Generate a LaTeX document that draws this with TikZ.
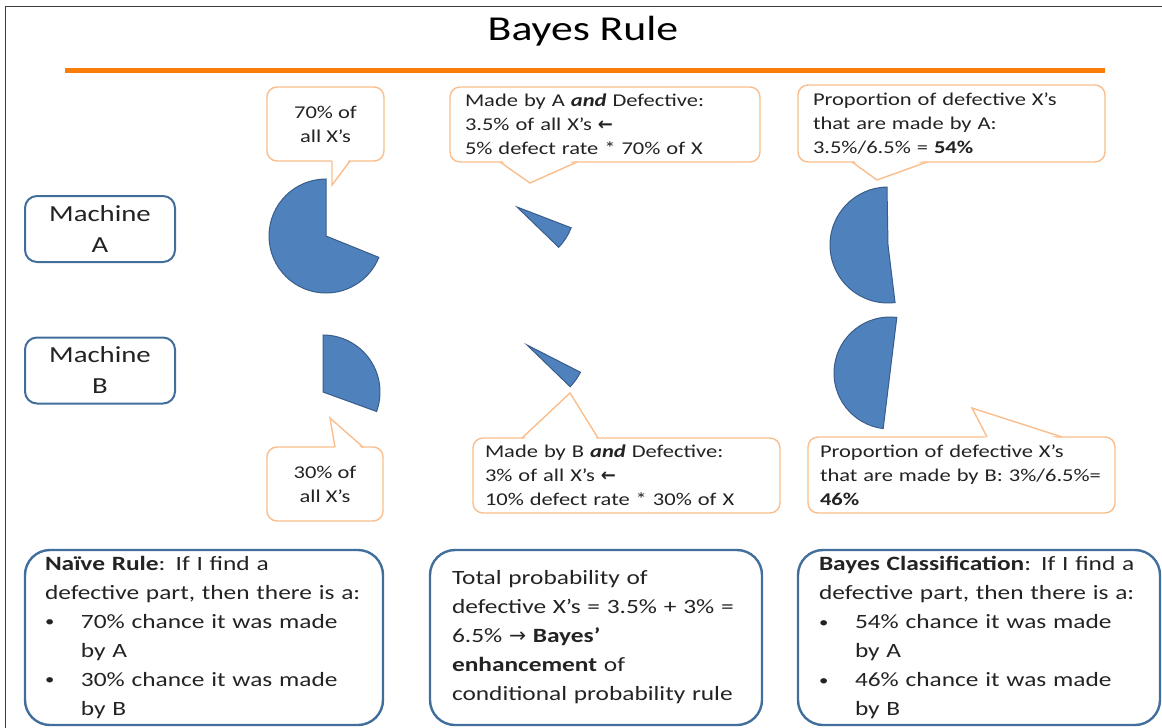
\documentclass[tikz,border=0pt]{standalone}
\usepackage{fontspec}
\setmainfont[FakeStretch=1.25]{Carlito}
\newfontfamily\arrowfont{DejaVu Sans}
\usepackage{tikz}
\usetikzlibrary{positioning}

\definecolor{ruleorange}{RGB}{250,125,10}
\definecolor{calloutorange}{RGB}{250,190,140}
\definecolor{boxblue}{RGB}{65,110,155}
\definecolor{piefill}{RGB}{79,129,189}
\definecolor{pieedge}{RGB}{56,93,138}
\definecolor{textgray}{RGB}{35,35,35}
\definecolor{framegray}{RGB}{60,60,60}

\newcommand{\bitem}{\makebox[36pt][l]{\raisebox{1.5pt}{\fontsize{15}{15}\selectfont\textbullet}}}
\newcommand{\bindent}{\hspace*{36pt}}

\begin{document}
\begin{tikzpicture}[x=1pt, y=-1pt,
    machine/.style={draw=boxblue, line width=2pt, rounded corners=12pt, minimum width=150pt, minimum height=66pt, align=center, font=\fontsize{23}{31}\selectfont, text=textgray},
    callout/.style={draw=calloutorange, line width=1.4pt, fill=white, rounded corners=10pt, font=\fontsize{18}{24}\selectfont, text=textgray},
    pointer/.style={draw=calloutorange, line width=1.4pt},
    summary/.style={draw=boxblue, line width=2.4pt, rounded corners=25pt, minimum height=175pt, inner ysep=2pt, align=left, font=\fontsize{20.3}{29}\selectfont, text=textgray},
    pie/.style={fill=piefill, draw=pieedge, line width=1pt}]
    \useasboundingbox (0,0) rectangle (1162,728);

    % Cadre et titre
    \draw[framegray, line width=1pt] (5,728) -- (5,6) -- (1162,6);
    \node[font=\fontsize{35}{42}\selectfont, anchor=base] (title) at (583,40) {Bayes Rule};
    \draw[ruleorange, line width=5pt] (65,70) -- (1105,70);

    % Machines
    \node[machine] (ma) at (100,229) {Machine\\A};
    \node[machine] (mb) at (100,370.5) {Machine\\B};

    % Secteurs
    \filldraw[pie] (326,236) -- ++(90:57pt) arc[start angle=90, end angle=338, radius=57pt] -- cycle;
    \filldraw[pie] (323,392) -- ++(90:57pt) arc[start angle=90, end angle=-20, radius=57pt] -- cycle;
    \filldraw[pie] (517,207) -- ++(-21:58pt) arc[start angle=-21, end angle=-44, radius=58pt] -- cycle;
    \filldraw[pie] (527,345) -- ++(-27:60pt) arc[start angle=-27, end angle=-44, radius=60pt] -- cycle;
    \filldraw[pie] (888,245) -- ++(91:58pt) arc[start angle=91, end angle=277, radius=58pt] -- cycle;
    \filldraw[pie] (890,373) -- ++(83:56pt) arc[start angle=83, end angle=263, radius=56pt] -- cycle;

    % Bulles
    \node[callout, minimum width=117pt, minimum height=74pt, align=center] (pa) at (325.5,124) {70\% of\\all X’s};
    \node[callout, text width=280pt, inner xsep=15pt, minimum height=75pt, align=left] (da) at (605,124.5)
        {Made by A \textbf{\textit{and}} Defective:\\3.5\% of all X’s {\arrowfont\bfseries ←}\\5\% defect rate * 70\% of X};
    \node[callout, text width=277pt, inner xsep=15pt, minimum height=77pt, align=left] (qa) at (951.5,123.5)
        {Proportion of defective X’s\\that are made by A:\\3.5\%/6.5\% = \textbf{54\%}};
    \node[callout, minimum width=116pt, minimum height=74pt, align=center] (pb) at (325,484) {30\% of\\all X’s};
    \node[callout, text width=283pt, inner xsep=12pt, minimum height=75pt, align=left] (db) at (626.5,475.5)
        {Made by B \textbf{\textit{and}} Defective:\\3\% of all X’s {\arrowfont\bfseries ←}\\10\% defect rate * 30\% of X};
    \node[callout, text width=291pt, inner xsep=8pt, minimum height=76pt, align=left] (qb) at (961.5,475)
        {\hspace*{4pt}Proportion of defective X’s\\\hspace*{4pt}that are made by B: 3\%/6.5\%=\\\hspace*{4pt}\textbf{46\%}};

    % Pointes des bulles
    \fill[white] (332,158) -- (332,185) -- (350,158) -- cycle;
    \draw[pointer] (332,161) -- (332,185) -- (350,161);
    \fill[white] (500,159) -- (530,183) -- (577,159) -- cycle;
    \draw[pointer] (500,162) -- (530,183) -- (577,162);
    \fill[white] (852,159) -- (877,180) -- (927,159) -- cycle;
    \draw[pointer] (852,162) -- (877,180) -- (927,162);
    \fill[white] (335,450) -- (330,418) -- (363,450) -- cycle;
    \draw[pointer] (335,447) -- (330,418) -- (363,447);
    \fill[white] (522,441) -- (570,393) -- (598,441) -- cycle;
    \draw[pointer] (522,438) -- (570,393) -- (598,438);
    \fill[white] (987,440) -- (972,408) -- (1062,440) -- cycle;
    \draw[pointer] (987,437) -- (972,408) -- (1062,437);

    % Conclusions
    \node[summary, text width=318pt, inner xsep=20pt] (naive) at (204,637.5)
        {\textbf{Naïve Rule}: If I find a\\defective part, then there is a:\\\bitem 70\% chance it was made\\\bindent by A\\\bitem 30\% chance it was made\\\bindent by B};
    \node[summary, text width=288pt, inner xsep=22pt] (total) at (596,637.5)
        {Total probability of\\defective X’s = 3.5\% + 3\% =\\6.5\% {\arrowfont →} \textbf{Bayes’}\\\textbf{enhancement} of\\conditional probability rule};
    \node[summary, text width=320pt, inner xsep=21pt] (bayes) at (979,637.5)
        {\textbf{Bayes Classification}: If I find a\\defective part, then there is a:\\\bitem 54\% chance it was made\\\bindent by A\\\bitem 46\% chance it was made\\\bindent by B};
\end{tikzpicture}
\end{document}
